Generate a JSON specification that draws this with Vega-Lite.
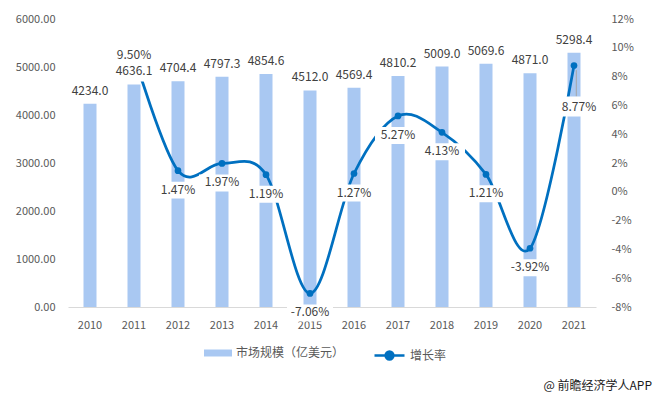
{
  "$schema": "https://vega.github.io/schema/vega-lite/v6.json",
  "width": 528,
  "height": 288,
  "autosize": {"type": "none"},
  "padding": {"left": 68, "top": 19, "right": 64, "bottom": 89},
  "background": "white",
  "config": {
    "view": {"stroke": null},
    "font": "Noto Sans CJK SC",
    "axis": {"labelFont": "Noto Sans CJK SC", "labelColor": "#595959", "labelFontSize": 11, "title": null, "grid": false, "ticks": false},
    "legend": {"labelFont": "Noto Sans CJK SC", "labelColor": "#595959", "labelFontSize": 12, "padding": 0}
  },
  "title": {
    "text": "@ 前瞻经济学人APP",
    "orient": "bottom",
    "anchor": "end",
    "frame": "group",
    "fontSize": 12,
    "fontWeight": "normal",
    "color": "#1a1a1a",
    "font": "Noto Sans CJK SC",
    "offset": 16,
    "dx": 56
  },
  "data": {
    "values": [
      {"year": "2010", "size": 4234.0, "growth": null},
      {"year": "2011", "size": 4636.1, "growth": 0.095},
      {"year": "2012", "size": 4704.4, "growth": 0.0147},
      {"year": "2013", "size": 4797.3, "growth": 0.0197},
      {"year": "2014", "size": 4854.6, "growth": 0.0119},
      {"year": "2015", "size": 4512.0, "growth": -0.0706},
      {"year": "2016", "size": 4569.4, "growth": 0.0127},
      {"year": "2017", "size": 4810.2, "growth": 0.0527},
      {"year": "2018", "size": 5009.0, "growth": 0.0413},
      {"year": "2019", "size": 5069.6, "growth": 0.0121},
      {"year": "2020", "size": 4871.0, "growth": -0.0392},
      {"year": "2021", "size": 5298.4, "growth": 0.0877}
    ]
  },
  "transform": [
    {"calculate": "datum.growth == null ? null : replace(format(datum.growth, '.2%'), '\u2212', '-')", "as": "growthLabel"}
  ],
  "encoding": {
    "x": {
      "field": "year", "type": "ordinal",
      "scale": {"paddingInner": 0, "paddingOuter": 0},
      "axis": {"labelAngle": 0, "domainColor": "#D9D9D9", "domainWidth": 1, "labelPadding": 12, "orient": "bottom"}
    }
  },
  "layer": [
    {
      "mark": {"type": "bar", "size": 13, "color": "#A9C8F2"},
      "encoding": {
        "y": {"field": "size", "type": "quantitative", "scale": {"domain": [0, 6000], "nice": false},
          "axis": {"orient": "left", "format": ".2f", "values": [0, 1000, 2000, 3000, 4000, 5000, 6000], "domain": false, "labelPadding": 13}},
        "fill": {"datum": "市场规模（亿美元）", "scale": {"range": ["#A9C8F2"]},
          "legend": {"title": null, "orient": "none", "legendX": 136, "legendY": 320, "symbolType": "M-1,-0.25H1V0.25H-1Z", "symbolSize": 784, "symbolStrokeWidth": 0, "labelOffset": 4}}
      }
    },
    {
      "transform": [{"filter": "datum.growth != null"}],
      "mark": {"type": "line", "interpolate": "cardinal", "strokeWidth": 2.75},
      "encoding": {
        "y": {"field": "growth", "type": "quantitative", "scale": {"domain": [-0.08, 0.12], "nice": false},
          "axis": {"orient": "right", "labelExpr": "replace(format(datum.value, '.0%'), '\u2212', '-')", "values": [-0.08, -0.06, -0.04, -0.02, 0, 0.02, 0.04, 0.06, 0.08, 0.1, 0.12], "domain": false, "labelPadding": 15}},
        "stroke": {"datum": "增长率", "scale": {"range": ["#0070C0"]},
          "legend": {"title": null, "orient": "none", "legendX": 305, "legendY": 320, "symbolType": "M-1,0H1M-0.26,0A0.26,0.26,0,1,1,0.26,0A0.26,0.26,0,1,1,-0.26,0Z", "symbolSize": 900, "symbolStrokeWidth": 2.5, "symbolFillColor": "#0070C0", "labelOffset": 4}}
      }
    },
    {
      "transform": [{"filter": "datum.growth != null"}],
      "mark": {"type": "point", "shape": "circle", "filled": true, "size": 45, "color": "#0070C0", "opacity": 1},
      "encoding": {
        "y": {"field": "growth", "type": "quantitative", "scale": {"domain": [-0.08, 0.12], "nice": false}, "axis": null}
      }
    },
    {
      "transform": [{"filter": "datum.year == '2021'"}],
      "mark": {"type": "point", "shape": "M0.1,0.2V1.35", "filled": false, "size": 2116, "stroke": "#A6A6A6", "strokeWidth": 1, "opacity": 1},
      "encoding": {
        "y": {"field": "growth", "type": "quantitative", "scale": {"domain": [-0.08, 0.12], "nice": false}, "axis": null}
      }
    },
    {
      "mark": {"type": "point", "shape": "M-1,-0.958H1V-0.125H-1Z", "filled": true, "size": 2304, "color": "white", "opacity": 1, "strokeWidth": 0},
      "encoding": {
        "y": {"field": "size", "type": "quantitative", "scale": {"domain": [0, 6000], "nice": false}, "axis": null}
      }
    },
    {
      "transform": [{"filter": "datum.growth != null && datum.year != '2011' && datum.year != '2021'"}],
      "mark": {"type": "point", "shape": "M-1,0.478H1V1.217H-1Z", "filled": true, "size": 2116, "color": "white", "opacity": 1, "strokeWidth": 0},
      "encoding": {
        "y": {"field": "growth", "type": "quantitative", "scale": {"domain": [-0.08, 0.12], "nice": false}, "axis": null}
      }
    },
    {
      "transform": [{"filter": "datum.year == '2011'"}],
      "mark": {"type": "point", "shape": "M-1,-0.45H1V0.45H-1Z", "filled": true, "size": 2116, "color": "white", "opacity": 1, "strokeWidth": 0},
      "encoding": {
        "y": {"field": "growth", "type": "quantitative", "scale": {"domain": [-0.08, 0.12], "nice": false}, "axis": null}
      }
    },
    {
      "transform": [{"filter": "datum.year == '2021'"}],
      "mark": {"type": "point", "shape": "M-0.783,1.348H1.217V2.217H-0.783Z", "filled": true, "size": 2116, "color": "white", "opacity": 1, "strokeWidth": 0},
      "encoding": {
        "y": {"field": "growth", "type": "quantitative", "scale": {"domain": [-0.08, 0.12], "nice": false}, "axis": null}
      }
    },
    {
      "mark": {"type": "text", "dy": -13, "baseline": "middle", "fontSize": 12, "color": "#404040", "font": "Noto Sans CJK SC"},
      "encoding": {
        "y": {"field": "size", "type": "quantitative", "scale": {"domain": [0, 6000], "nice": false}, "axis": null},
        "text": {"field": "size", "type": "quantitative", "format": ".1f"}
      }
    },
    {
      "transform": [{"filter": "datum.growth != null && datum.year != '2011' && datum.year != '2021'"}],
      "mark": {"type": "text", "dy": 19, "baseline": "middle", "fontSize": 12, "color": "#404040", "font": "Noto Sans CJK SC"},
      "encoding": {
        "y": {"field": "growth", "type": "quantitative", "scale": {"domain": [-0.08, 0.12], "nice": false}, "axis": null},
        "text": {"field": "growthLabel", "type": "nominal"}
      }
    },
    {
      "transform": [{"filter": "datum.year == '2011'"}],
      "mark": {"type": "text", "dy": 0, "baseline": "middle", "fontSize": 12, "color": "#404040", "font": "Noto Sans CJK SC"},
      "encoding": {
        "y": {"field": "growth", "type": "quantitative", "scale": {"domain": [-0.08, 0.12], "nice": false}, "axis": null},
        "text": {"field": "growthLabel", "type": "nominal"}
      }
    },
    {
      "transform": [{"filter": "datum.year == '2021'"}],
      "mark": {"type": "text", "dx": 5, "dy": 41, "baseline": "middle", "fontSize": 12, "color": "#404040", "font": "Noto Sans CJK SC"},
      "encoding": {
        "y": {"field": "growth", "type": "quantitative", "scale": {"domain": [-0.08, 0.12], "nice": false}, "axis": null},
        "text": {"field": "growthLabel", "type": "nominal"}
      }
    }
  ],
  "resolve": {"scale": {"y": "independent", "fill": "independent", "stroke": "independent"}}
}
